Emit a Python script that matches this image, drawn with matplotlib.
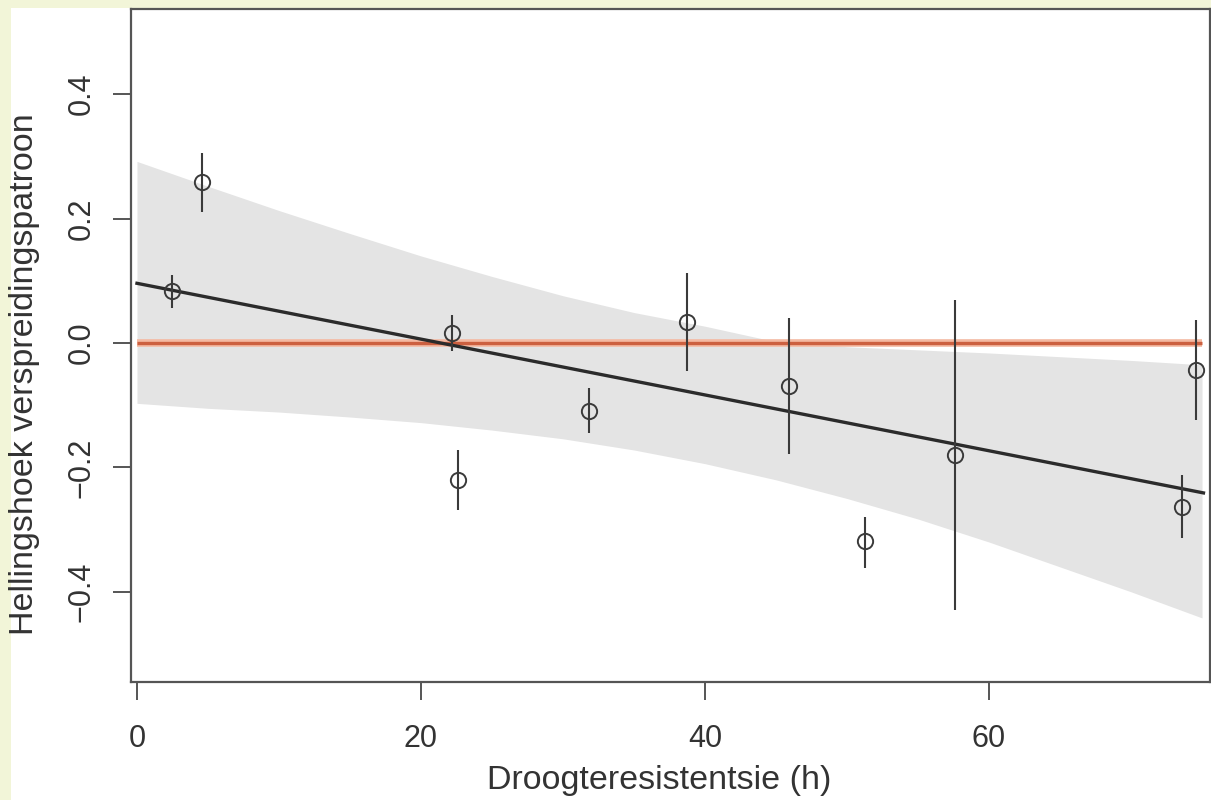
import numpy as np
import matplotlib.pyplot as plt
from matplotlib.patches import Rectangle

plt.rcParams['font.family'] = ['Liberation Sans', 'DejaVu Sans']

# data points with error bars
x_pts = [2.46, 4.56, 22.2, 22.6, 31.8, 38.7, 45.9, 51.3, 57.6, 73.6, 74.6]
y_pts = [0.0835, 0.259, 0.016, -0.220, -0.109, 0.034, -0.069, -0.318, -0.180, -0.263, -0.043]
y_lo = [0.056, 0.211, -0.013, -0.268, -0.145, -0.045, -0.178, -0.361, -0.429, -0.313, -0.124]
y_hi = [0.109, 0.306, 0.045, -0.172, -0.072, 0.112, 0.040, -0.280, 0.069, -0.212, 0.037]

# fitted line end points
fit_x = [0, 75.1]
fit_y = [0.096, -0.241]

# confidence band
band_x = [0, 5, 10, 15, 20, 25, 30, 35, 40, 45, 50, 55, 60, 65, 70, 75]
band_hi = [0.292, 0.252, 0.213, 0.176, 0.140, 0.107, 0.076, 0.049, 0.027, 0.002, -0.006,
           -0.011, -0.016, -0.022, -0.028, -0.035]
band_lo = [-0.097, -0.105, -0.111, -0.119, -0.128, -0.140, -0.154, -0.172, -0.194, -0.220,
           -0.250, -0.283, -0.320, -0.360, -0.400, -0.442]

xticks = [0, 20, 40, 60]
yticks = [-0.4, -0.2, 0.0, 0.2, 0.4]

W, H = 1211, 800
fig = plt.figure(figsize=(W / 100, H / 100), dpi=100)
fig.patch.set_facecolor('#f2f5d8')
fig.add_artist(Rectangle((11 / W, 0), 1 - 11 / W, 1 - 8 / H, transform=fig.transFigure,
                         facecolor='white', edgecolor='none', zorder=0))

ax = fig.add_axes([131 / W, (H - 682) / H, (1210 - 131) / W, (682 - 9) / H])
ax.set_facecolor('white')

ax.fill_between(band_x, band_lo, band_hi, color='#e4e4e4', lw=0, zorder=1)
ax.plot([0, 75], [0, 0], color='#f4b9a2', lw=5.5, zorder=2, solid_capstyle='butt')
ax.plot([0, 75], [0, 0], color='#cc6040', lw=2.4, zorder=2, solid_capstyle='butt')
ax.plot(fit_x, fit_y, color='#2b2b2b', lw=2.4, zorder=3)

x_arr = np.array(x_pts)
y_arr = np.array(y_pts)
yerr = [y_arr - np.array(y_lo), np.array(y_hi) - y_arr]
ax.errorbar(x_arr, y_arr, yerr=yerr, fmt='none', ecolor='#3a3a3a', elinewidth=1.5,
            capsize=0, zorder=4)
ax.plot(x_arr, y_arr, 'o', ms=11, mfc='none', mec='#3a3a3a', mew=1.4, zorder=5)

ax.set_xlim(-0.42, 75.56)
ax.set_ylim(-0.545, 0.537)
ax.set_xticks(xticks)
ax.set_yticks(yticks)
ax.set_xticklabels([str(t) for t in xticks])
ax.set_yticklabels([f'{t:.1f}'.replace('-', '\u2212') for t in yticks],
                   rotation=90, va='center')

for s in ax.spines.values():
    s.set_color('#555555')
    s.set_linewidth(1.6)
ax.tick_params(axis='both', direction='out', length=13, width=1.4, color='#555555',
               labelsize=22, labelcolor='#333333')
ax.tick_params(axis='x', pad=17)
ax.tick_params(axis='y', pad=12)

fig.text(659 / W, 1 - 781 / H, 'Droogteresistentsie (h)', ha='center', va='center',
         fontsize=24.5, color='#333333')
fig.text(25 / W, 1 - 374 / H, 'Hellingshoek verspreidingspatroon', ha='center',
         va='center', rotation=90, fontsize=24.5, color='#333333')

fig.savefig('out.png', dpi=100, facecolor=fig.get_facecolor())
